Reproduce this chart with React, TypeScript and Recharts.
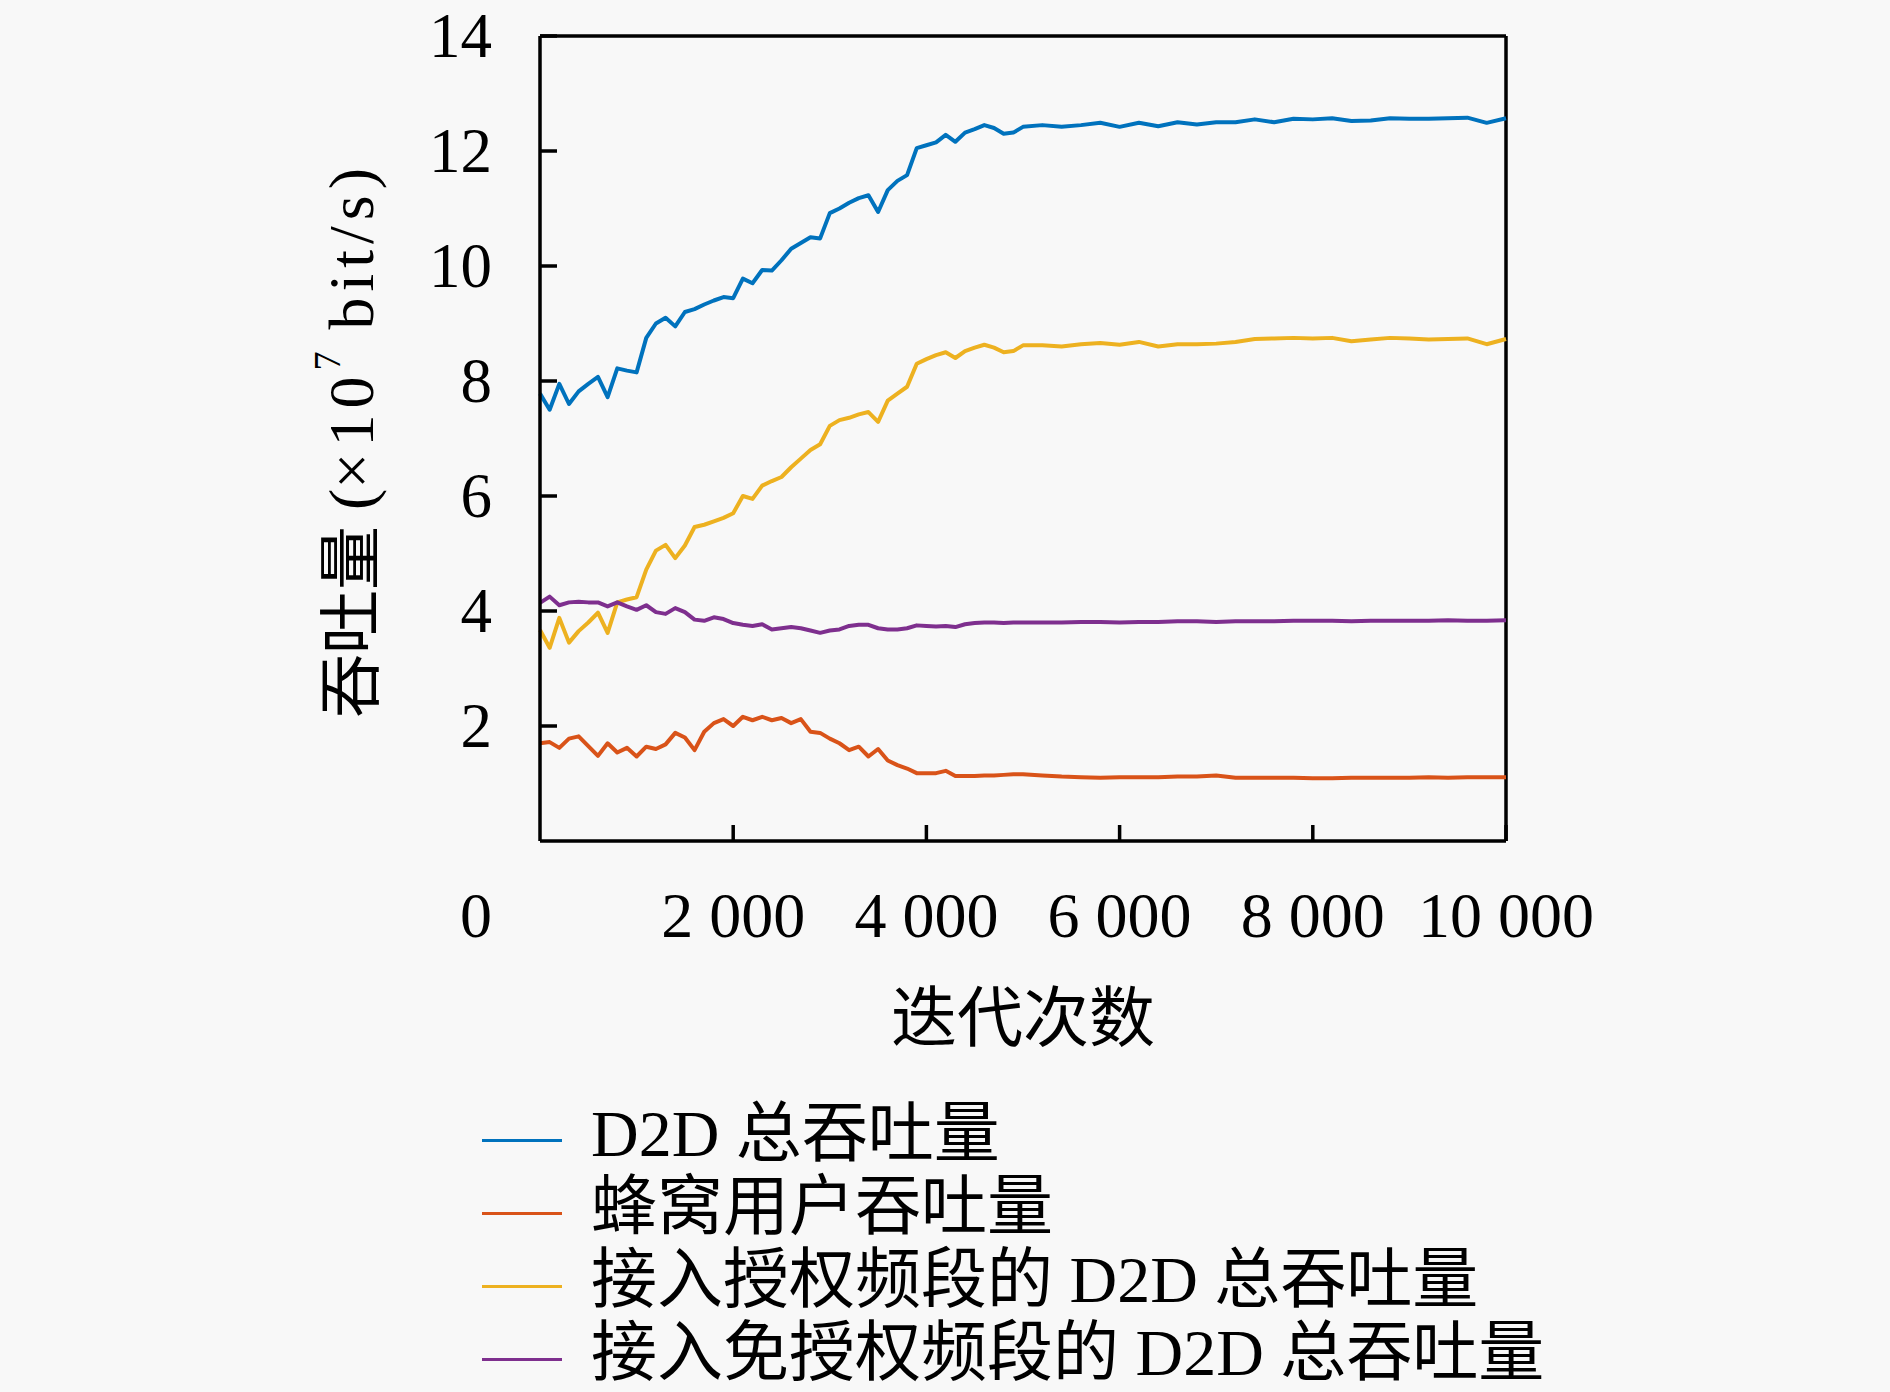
import React from "react";
import {
  Legend,
  Line,
  LineChart,
  ReferenceLine,
  XAxis,
  YAxis,
} from "recharts";

const iterations = [
  0, 100, 200, 300, 400, 500, 600, 700, 800, 900,
  1000, 1100, 1200, 1300, 1400, 1500, 1600, 1700, 1800, 1900,
  2000, 2100, 2200, 2300, 2400, 2500, 2600, 2700, 2800, 2900,
  3000, 3100, 3200, 3300, 3400, 3500, 3600, 3700, 3800, 3900,
  4000, 4100, 4200, 4300, 4400, 4500, 4600, 4700, 4800, 4900,
  5000, 5200, 5400, 5600, 5800, 6000, 6200, 6400, 6600, 6800,
  7000, 7200, 7400, 7600, 7800, 8000, 8200, 8400, 8600, 8800,
  9000, 9200, 9400, 9600, 9800, 10000,
];

const d2dTotal = [
  7.78, 7.5, 7.95, 7.6, 7.82, 7.95, 8.07, 7.72, 8.22, 8.18,
  8.15, 8.75, 9.0, 9.1, 8.95, 9.2, 9.25, 9.33, 9.4, 9.46,
  9.44, 9.78, 9.7, 9.93, 9.92, 10.1, 10.3, 10.4, 10.5, 10.48,
  10.92, 11.0, 11.1, 11.18, 11.23, 10.94, 11.32, 11.48, 11.58, 12.05,
  12.1, 12.15, 12.28, 12.16, 12.32, 12.38, 12.45, 12.4, 12.3, 12.32,
  12.42, 12.45, 12.42, 12.45, 12.49, 12.42, 12.49, 12.43, 12.5, 12.46,
  12.5, 12.5, 12.55, 12.5, 12.56, 12.55, 12.57, 12.52, 12.53, 12.57,
  12.56, 12.56, 12.57, 12.58, 12.49, 12.57,
];

const cellular = [
  1.7, 1.72, 1.62, 1.78, 1.82, 1.65, 1.48, 1.7, 1.54, 1.62,
  1.47, 1.64, 1.6, 1.68, 1.88, 1.8, 1.58, 1.9, 2.05, 2.12,
  2.0, 2.16, 2.1, 2.16, 2.1, 2.14, 2.05, 2.12, 1.9, 1.88,
  1.78, 1.7, 1.58, 1.64, 1.47, 1.6, 1.4, 1.32, 1.26, 1.18,
  1.18, 1.18, 1.22, 1.13, 1.13, 1.13, 1.14, 1.14, 1.15, 1.16,
  1.16, 1.14, 1.12, 1.11, 1.1, 1.11, 1.11, 1.11, 1.12, 1.12,
  1.14, 1.1, 1.1, 1.1, 1.1, 1.09, 1.09, 1.1, 1.1, 1.1,
  1.1, 1.11, 1.1, 1.11, 1.11, 1.11,
];

const licensedD2d = [
  3.67, 3.36, 3.88, 3.45, 3.65, 3.8, 3.97, 3.62, 4.15, 4.2,
  4.24, 4.72, 5.05, 5.15, 4.92, 5.14, 5.46, 5.5, 5.56, 5.62,
  5.7, 6.0, 5.95, 6.18, 6.26, 6.33, 6.5, 6.65, 6.8, 6.9,
  7.22, 7.32, 7.36, 7.42, 7.46, 7.29, 7.66, 7.78, 7.9, 8.3,
  8.38, 8.45, 8.5, 8.4, 8.52, 8.58, 8.63, 8.58, 8.5, 8.52,
  8.62, 8.62, 8.6, 8.64, 8.66, 8.63, 8.68, 8.6, 8.64, 8.64,
  8.65, 8.68, 8.73, 8.74, 8.75, 8.74, 8.75, 8.69, 8.72, 8.75,
  8.74, 8.72, 8.73, 8.74, 8.64, 8.73,
];

const unlicensedD2d = [
  4.14, 4.25, 4.1, 4.15, 4.16, 4.15, 4.15, 4.08, 4.15, 4.08,
  4.02, 4.1, 3.98, 3.95, 4.05, 3.98, 3.85, 3.83, 3.89, 3.86,
  3.79, 3.76, 3.74, 3.77, 3.68, 3.7, 3.72, 3.7, 3.66, 3.62,
  3.66, 3.68, 3.74, 3.76, 3.76, 3.7, 3.68, 3.68, 3.7, 3.75,
  3.74, 3.73, 3.74, 3.72, 3.77, 3.79, 3.8, 3.8, 3.79, 3.8,
  3.8, 3.8, 3.8, 3.81, 3.81, 3.8, 3.81, 3.81, 3.82, 3.82,
  3.81, 3.82, 3.82, 3.82, 3.83, 3.83, 3.83, 3.82, 3.83, 3.83,
  3.83, 3.83, 3.84, 3.83, 3.83, 3.84,
];

const xTicks = [0, 2000, 4000, 6000, 8000, 10000];
const xTickLabels = ["0", "2 000", "4 000", "6 000", "8 000", "10 000"];
const yTicks = [2, 4, 6, 8, 10, 12, 14];

const series = [
  { key: "d2dTotal", name: "D2D 总吞吐量", color: "#0072BD" },
  { key: "cellular", name: "蜂窝用户吞吐量", color: "#D95319" },
  { key: "licensedD2d", name: "接入授权频段的 D2D 总吞吐量", color: "#EDB120" },
  { key: "unlicensedD2d", name: "接入免授权频段的 D2D 总吞吐量", color: "#7E2F8E" },
];

const data = iterations.map((it, i) => ({
  it,
  d2dTotal: d2dTotal[i],
  cellular: cellular[i],
  licensedD2d: licensedD2d[i],
  unlicensedD2d: unlicensedD2d[i],
}));

const FONT = "'Liberation Serif', 'Noto Sans CJK SC', serif";
const AXIS_W = 3.5;

function YTick({ x, y, payload }: any) {
  return (
    <g>
      <line x1={x} x2={x + 17} y1={y} y2={y} stroke="#000" strokeWidth={AXIS_W} />
      <text
        x={x - 48}
        y={y}
        textAnchor="end"
        dominantBaseline="central"
        fontFamily={FONT}
        fontSize={63}
        fill="#000"
      >
        {payload.value}
      </text>
    </g>
  );
}

function XTick({ x, y, payload }: any) {
  const idx = xTicks.indexOf(payload.value);
  const isOrigin = payload.value === 0;
  return (
    <g>
      {!isOrigin && (
        <line x1={x} x2={x} y1={y} y2={y - 16} stroke="#000" strokeWidth={AXIS_W} />
      )}
      <text
        x={isOrigin ? x - 64 : x}
        y={y + 96}
        textAnchor="middle"
        fontFamily={FONT}
        fontSize={64}
        fill="#000"
      >
        {xTickLabels[idx]}
      </text>
    </g>
  );
}

function LegendBox() {
  return (
    <div style={{ fontFamily: FONT, color: "#000" }}>
      {series.map((s, i) => (
        <div
          key={s.key}
          style={{
            display: "flex",
            alignItems: "center",
            height: 60,
            marginTop: i === 0 ? 0 : 13,
            whiteSpace: "nowrap",
          }}
        >
          <span
            style={{
              display: "inline-block",
              width: 80,
              height: 3,
              background: s.color,
              marginRight: 29,
              position: "relative",
              top: 6,
            }}
          />
          <span style={{ fontSize: 66, lineHeight: "60px" }}>{s.name}</span>
        </div>
      ))}
    </div>
  );
}

export default function App() {
  return (
    <div
      style={{
        position: "absolute",
        left: 0,
        top: 0,
        width: 1890,
        height: 1392,
        overflow: "hidden",
        background: "#f8f8f8",
      }}
    >
      <LineChart
        width={1890}
        height={1392}
        data={data}
        margin={{ top: 36, right: 384, bottom: 431, left: 0 }}
      >
        <XAxis
          dataKey="it"
          type="number"
          domain={[0, 10000]}
          ticks={xTicks}
          height={120}
          tickSize={0}
          tickMargin={0}
          tickLine={false}
          axisLine={{ stroke: "#000", strokeWidth: AXIS_W }}
          tick={<XTick />}
          interval={0}
          label={{
            content: () => (
              <text
                x={1023}
                y={1018}
                textAnchor="middle"
                dominantBaseline="central"
                fontFamily={FONT}
                fontSize={66}
                fill="#000"
              >
                迭代次数
              </text>
            ),
          }}
        />
        <YAxis
          type="number"
          domain={[0, 14]}
          ticks={yTicks}
          width={540}
          tickSize={0}
          tickMargin={0}
          tickLine={false}
          axisLine={{ stroke: "#000", strokeWidth: AXIS_W }}
          tick={<YTick />}
          interval={0}
          label={{
            content: () => (
              <text
                x={351}
                y={440}
                transform="rotate(-90 351 440)"
                textAnchor="middle"
                dominantBaseline="central"
                fontFamily={FONT}
                fontSize={64}
                fill="#000"
              >
                <tspan>吞吐量 (</tspan>
                <tspan letterSpacing={6}>×10</tspan>
                <tspan dy={-24} fontSize={38}>7</tspan>
                <tspan dy={24} letterSpacing={6}> bit/s)</tspan>
              </text>
            ),
          }}
        />
        <ReferenceLine y={14} stroke="#000" strokeWidth={AXIS_W} />
        <ReferenceLine x={10000} stroke="#000" strokeWidth={AXIS_W} />
        {series.map((s) => (
          <Line
            key={s.key}
            type="linear"
            dataKey={s.key}
            name={s.name}
            stroke={s.color}
            strokeWidth={4}
            strokeLinejoin="round"
            dot={false}
            activeDot={false}
            isAnimationActive={false}
          />
        ))}
        <Legend
          layout="horizontal"
          verticalAlign="middle"
          align="center"
          content={<LegendBox />}
          wrapperStyle={{ left: 482, top: 1104, width: 1300, height: 280 }}
        />
      </LineChart>
    </div>
  );
}
